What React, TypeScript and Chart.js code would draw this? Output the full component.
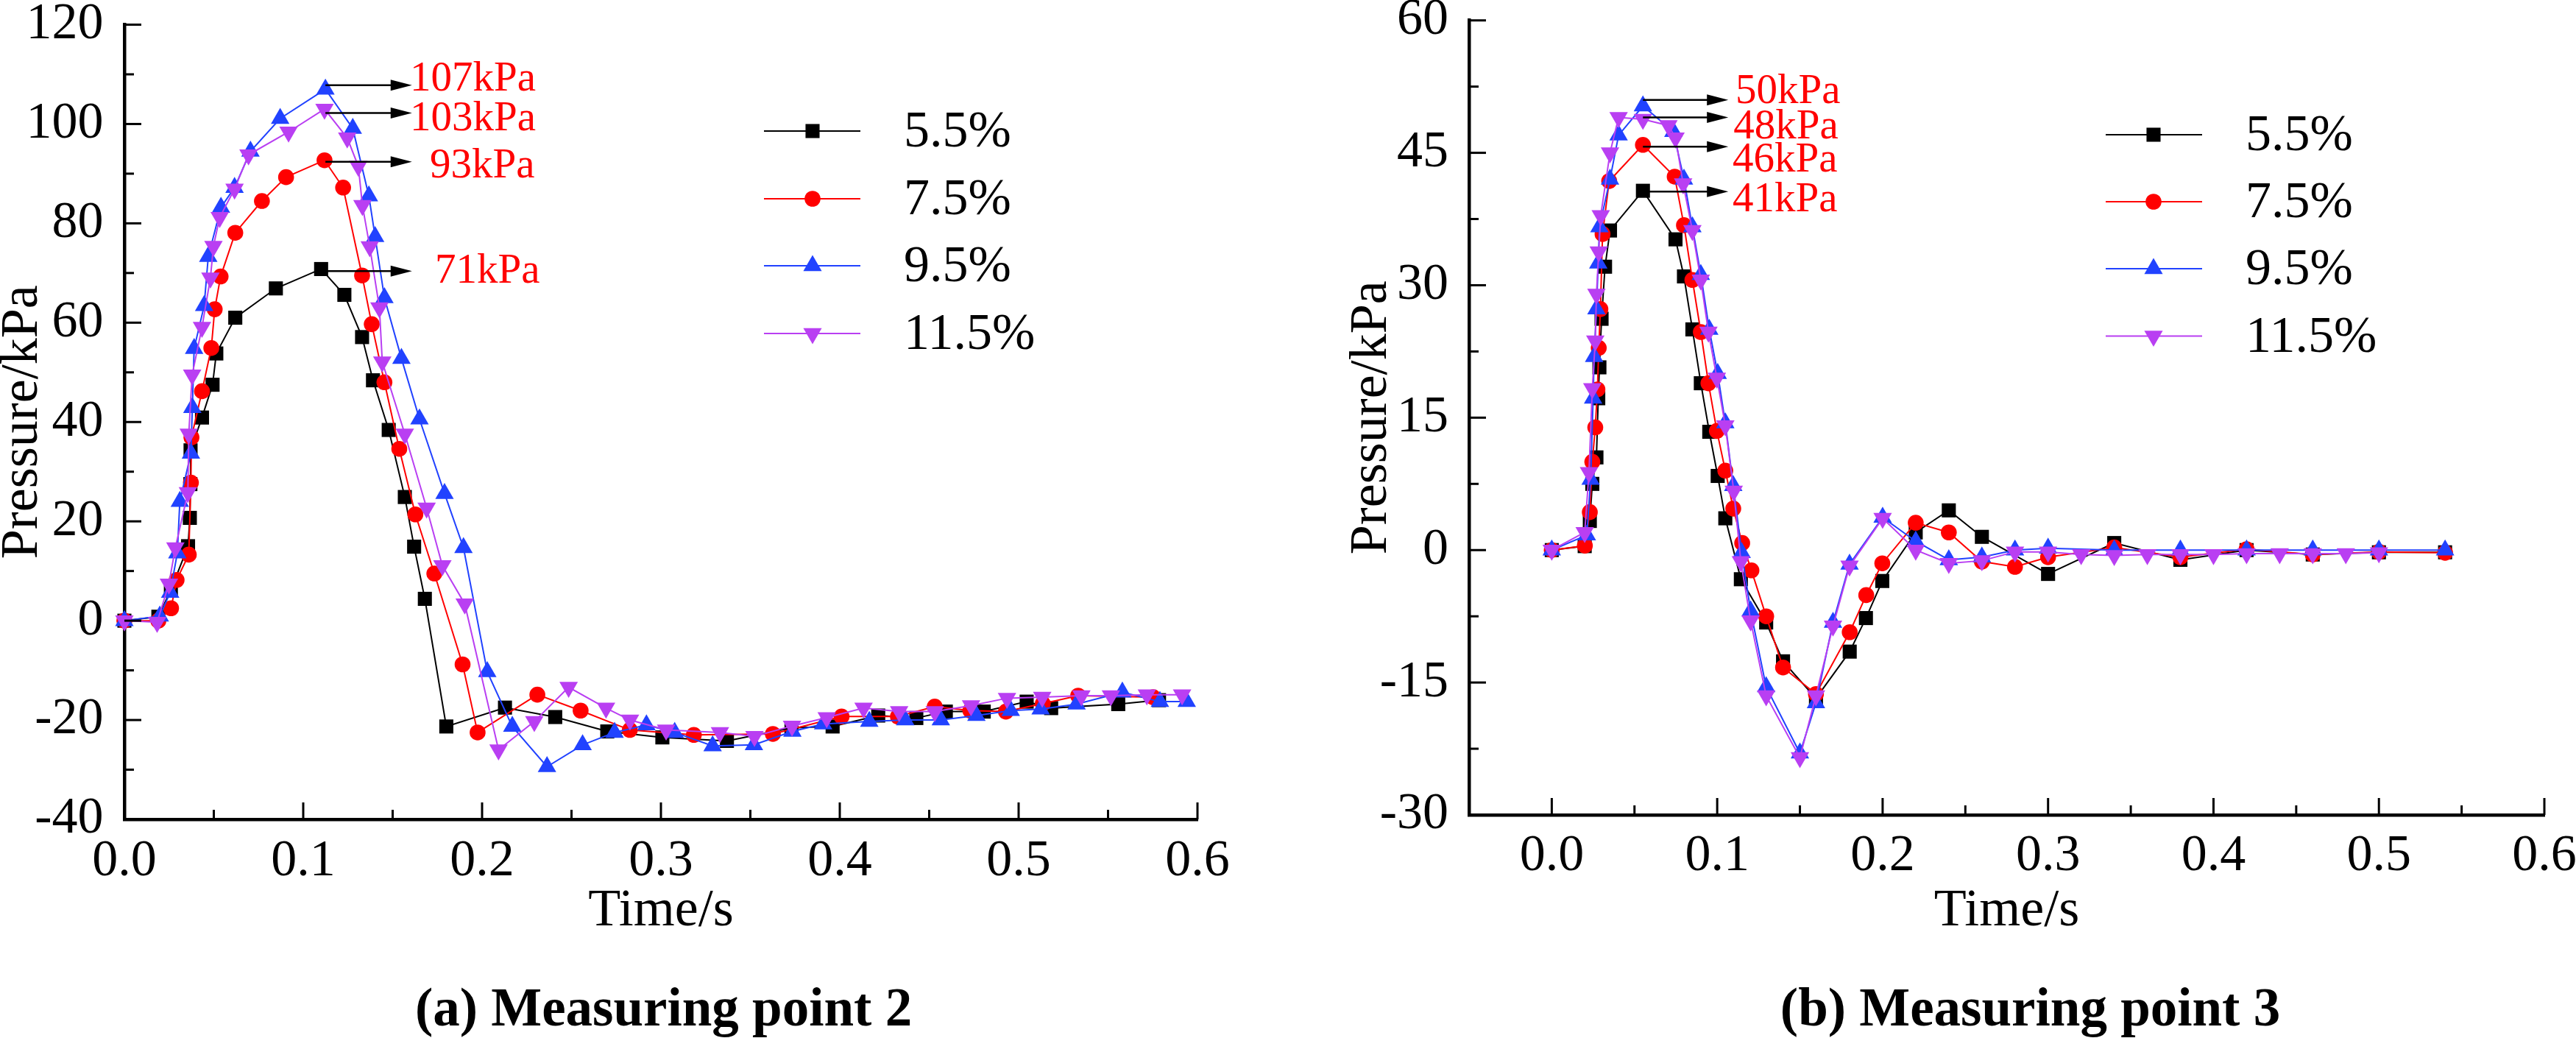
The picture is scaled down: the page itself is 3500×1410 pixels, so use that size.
import React, { useEffect, useRef } from "react";
import { Chart, registerables } from "chart.js";

Chart.register(...registerables);

const FONT = "'Liberation Serif', 'Times New Roman', Times, serif";
const PANEL_W = 1750;
const PANEL_H = 1410;

// ---------------- shared series styling ----------------
const seriesLabels = ["5.5%", "7.5%", "9.5%", "11.5%"];
const seriesColors = ["#000000", "#ff0000", "#2142ff", "#b93ff2"];
const seriesStyles = ["rect", "circle", "triangle", "triangle"];
const seriesRotation = [0, 0, 0, 180];
const seriesRadius = [13.5, 10.8, 14.5, 14.5];

// ---------------- (a) Measuring point 2 ----------------
const aT55 = [0, 0.019, 0.026, 0.0356, 0.0366, 0.0369, 0.037, 0.0434, 0.0493, 0.0514, 0.062, 0.0847, 0.11, 0.123, 0.1329, 0.139, 0.1478, 0.1568, 0.162, 0.168, 0.18, 0.2128, 0.2409, 0.27, 0.3008, 0.3369, 0.373, 0.396, 0.4215, 0.4428, 0.4593, 0.4805, 0.5045, 0.5182, 0.5557, 0.5785];
const aV55 = [0, 0.8, 6.2, 15.0, 20.7, 27.5, 34.3, 40.9, 47.5, 53.8, 61.0, 66.9, 70.8, 65.6, 57.1, 48.4, 38.4, 24.9, 14.9, 4.4, -21.3, -17.5, -19.4, -22.3, -23.5, -24.2, -21.6, -21.3, -19.1, -19.6, -18.3, -18.3, -16.3, -17.6, -16.8, -16.0];

const aT75 = [0, 0.019, 0.0261, 0.0292, 0.036, 0.0372, 0.0375, 0.0434, 0.0486, 0.0505, 0.0538, 0.062, 0.0769, 0.0904, 0.1119, 0.1223, 0.1329, 0.1383, 0.1454, 0.1537, 0.1627, 0.1733, 0.1891, 0.1975, 0.2309, 0.2551, 0.2826, 0.3184, 0.3626, 0.401, 0.4325, 0.4531, 0.473, 0.4929, 0.5135, 0.5333, 0.5752];
const aV75 = [0, 0, 2.5, 8.2, 13.3, 27.8, 36.9, 46.2, 54.9, 62.7, 69.3, 78.1, 84.5, 89.3, 92.7, 87.2, 69.5, 59.7, 48.0, 34.6, 21.4, 9.5, -8.8, -22.5, -14.9, -18.1, -22.0, -23.0, -22.8, -19.3, -19.3, -17.3, -18.1, -18.3, -16.7, -15.1, -15.4];

const aT95 = [0, 0.0198, 0.0256, 0.0296, 0.031, 0.0372, 0.038, 0.039, 0.0446, 0.0469, 0.054, 0.0616, 0.0705, 0.0871, 0.1124, 0.1277, 0.1367, 0.1402, 0.1454, 0.1549, 0.165, 0.179, 0.1896, 0.2029, 0.2169, 0.2363, 0.2562, 0.2741, 0.2919, 0.3077, 0.3289, 0.352, 0.3735, 0.3907, 0.4165, 0.4366, 0.4565, 0.4764, 0.4956, 0.5123, 0.5324, 0.558, 0.579, 0.594];
const aV95 = [0, 0.9, 5.7, 13.6, 24.0, 33.7, 42.9, 54.8, 63.4, 73.3, 83.2, 87.2, 94.5, 101.1, 107.0, 99.1, 85.5, 77.3, 65.0, 52.8, 40.6, 25.6, 14.7, -10.3, -21.3, -29.4, -25.0, -22.5, -21.0, -22.5, -25.2, -25.0, -22.3, -20.8, -20.3, -20.0, -20.0, -19.1, -18.1, -17.8, -16.8, -14.4, -16.3, -16.3];

const aT115 = [0, 0.0183, 0.0249, 0.0285, 0.0355, 0.036, 0.0379, 0.0434, 0.0481, 0.0498, 0.0533, 0.0616, 0.0694, 0.0918, 0.1119, 0.1246, 0.1308, 0.1331, 0.1372, 0.1426, 0.1442, 0.1568, 0.169, 0.1778, 0.1903, 0.2092, 0.2292, 0.2484, 0.2693, 0.2827, 0.3029, 0.333, 0.3523, 0.3733, 0.3927, 0.4133, 0.4332, 0.4531, 0.4734, 0.4935, 0.5132, 0.5351, 0.5516, 0.5717, 0.5914];
const aV115 = [0, -0.3, 7.4, 14.7, 25.8, 37.6, 49.5, 59.1, 69.0, 75.4, 81.2, 86.9, 93.8, 98.4, 103.0, 97.2, 91.5, 83.6, 75.3, 63.0, 52.1, 37.6, 22.7, 11.1, 3.4, -26.0, -20.3, -13.4, -17.6, -20.0, -22.0, -22.5, -23.3, -21.2, -19.5, -17.6, -18.3, -18.3, -17.1, -15.6, -15.4, -15.1, -15.1, -14.9, -14.9];

const aYMajor = [-40, -20, 0, 20, 40, 60, 80, 100, 120];
const aYMinor = [-30, -10, 10, 30, 50, 70, 90, 110];
const aPeakLabels = ["107kPa", "103kPa", "93kPa", "71kPa"];
const aPeakArrowY = [107.8, 102.2, 92.4, 70.4];
const aPeakTextX = [0.1597, 0.1597, 0.1708, 0.1737];
const aPeakTextY = [106.7, 98.8, 89.2, 68.0];
const aArrowFrom = 0.1124;
const aArrowTo = 0.1608;

// ---------------- (b) Measuring point 3 ----------------
const bT55 = [0, 0.0199, 0.023, 0.0245, 0.027, 0.0281, 0.0288, 0.0301, 0.0322, 0.0352, 0.0551, 0.0748, 0.0799, 0.085, 0.0901, 0.0952, 0.1003, 0.1049, 0.1143, 0.1296, 0.1398, 0.1597, 0.1801, 0.1899, 0.1998, 0.22, 0.24, 0.26, 0.3, 0.34, 0.38, 0.42, 0.46, 0.5, 0.54];
const bV55 = [0, 0.45, 3.3, 7.5, 10.5, 17.2, 20.7, 26.2, 32.1, 36.2, 40.7, 35.2, 31.0, 25.0, 18.9, 13.4, 8.4, 3.6, -3.3, -8.2, -12.6, -16.8, -11.5, -7.7, -3.5, 2.0, 4.5, 1.5, -2.7, 0.8, -1.1, 0.0, -0.5, -0.25, -0.25];

const bT75 = [0, 0.02, 0.023, 0.0245, 0.0263, 0.0276, 0.0284, 0.0294, 0.0307, 0.0347, 0.0551, 0.0743, 0.0799, 0.085, 0.0901, 0.0947, 0.0998, 0.1049, 0.1097, 0.1151, 0.1207, 0.1296, 0.1398, 0.1597, 0.1801, 0.1901, 0.1998, 0.22, 0.24, 0.26, 0.28, 0.3, 0.34, 0.38, 0.42, 0.46, 0.5, 0.54];
const bV75 = [0, 0.5, 4.3, 10.0, 13.9, 18.2, 22.9, 27.3, 35.8, 41.8, 45.9, 42.3, 36.8, 30.6, 24.7, 18.9, 13.5, 9.0, 4.7, 0.8, -2.3, -7.5, -13.3, -16.3, -9.3, -5.1, -1.5, 3.1, 2.0, -1.3, -1.9, -0.8, 0.3, -0.8, 0.1, -0.5, -0.2, -0.3];

const bT95 = [0, 0.0212, 0.0235, 0.025, 0.0256, 0.027, 0.0281, 0.0288, 0.0352, 0.0404, 0.0551, 0.0735, 0.0799, 0.085, 0.0901, 0.0952, 0.1003, 0.1049, 0.1097, 0.1148, 0.1202, 0.1296, 0.15, 0.1597, 0.17, 0.18, 0.2, 0.22, 0.24, 0.26, 0.28, 0.3, 0.34, 0.38, 0.42, 0.46, 0.5, 0.54];
const bV95 = [0, 1.7, 8.0, 17.2, 21.9, 27.3, 32.5, 36.6, 42.0, 47.0, 50.3, 47.4, 42.0, 36.6, 31.2, 25.0, 20.0, 14.4, 7.3, -0.3, -6.9, -15.5, -23.0, -17.3, -8.2, -1.6, 3.7, 1.0, -1.1, -0.8, 0.0, 0.2, 0.0, 0.0, 0.0, 0.0, 0.0, 0.0];

const bT115 = [0, 0.0199, 0.0225, 0.0245, 0.0263, 0.027, 0.0284, 0.0296, 0.0352, 0.0404, 0.0551, 0.0705, 0.0748, 0.0794, 0.085, 0.0901, 0.0947, 0.0998, 0.1049, 0.11, 0.1143, 0.1202, 0.1296, 0.15, 0.1597, 0.17, 0.18, 0.2, 0.22, 0.24, 0.26, 0.28, 0.3, 0.32, 0.34, 0.36, 0.38, 0.4, 0.42, 0.44, 0.46, 0.48, 0.5];
const bV115 = [0, 2.0, 8.8, 18.3, 23.7, 29.0, 33.8, 37.9, 45.0, 49.0, 48.8, 48.1, 46.7, 41.5, 36.2, 30.6, 24.7, 19.5, 14.1, 6.7, -1.3, -8.0, -16.5, -23.5, -16.5, -8.6, -1.8, 3.6, 0.0, -1.5, -1.2, -0.2, -0.2, -0.5, -0.6, -0.5, -0.5, -0.5, -0.4, -0.4, -0.4, -0.4, -0.3];

const bYMajor = [-30, -15, 0, 15, 30, 45, 60];
const bYMinor = [-22.5, -7.5, 7.5, 22.5, 37.5, 52.5];
const bPeakLabels = ["50kPa", "48kPa", "46kPa", "41kPa"];
const bPeakArrowY = [51.0, 49.0, 45.7, 40.6];
const bPeakTextX = [0.1111, 0.1098, 0.1093, 0.1093];
const bPeakTextY = [50.6, 46.6, 42.9, 38.4];
const bArrowFrom = 0.0551;
const bArrowTo = 0.1067;

// ---------------- shared x ticks ----------------
const xMajor = [0, 0.1, 0.2, 0.3, 0.4, 0.5, 0.6];
const xMinor = [0.05, 0.15, 0.25, 0.35, 0.45, 0.55];

type Panel = {
  left: number;
  caption: string;
  captionX: number;
  series: { t: number[]; v: number[] }[];
  xMin: number; xMax: number; yMin: number; yMax: number;
  yMajor: number[]; yMinor: number[];
  padTop: number; padRight: number;
  yAxisW: number; xAxisH: number;
  yTickPad: number; xTickPad: number;
  yTitlePad: number; xTitlePad: number;
  legend: { x1: number; x2: number; xm: number; xt: number; rows: number[] };
  ann: { labels: string[]; arrowY: number[]; textX: number[]; textY: number[]; from: number; to: number };
};

const panelA: Panel = {
  left: 0,
  caption: "(a) Measuring point 2",
  captionX: 901.5,
  series: [
    { t: aT55, v: aV55 },
    { t: aT75, v: aV75 },
    { t: aT95, v: aV95 },
    { t: aT115, v: aV115 },
  ],
  xMin: 0, xMax: 0.6, yMin: -40, yMax: 120,
  yMajor: aYMajor, yMinor: aYMinor,
  padTop: 33.5, padRight: 123,
  yAxisW: 169, xAxisH: 297,
  yTickPad: 28.4, xTickPad: 23,
  yTitlePad: 2.2, xTitlePad: 143.2,
  legend: { x1: 1038, x2: 1169, xm: 1104, xt: 1228, rows: [178, 270, 361, 453] },
  ann: { labels: aPeakLabels, arrowY: aPeakArrowY, textX: aPeakTextX, textY: aPeakTextY, from: aArrowFrom, to: aArrowTo },
};

const panelB: Panel = {
  left: 1750,
  caption: "(b) Measuring point 3",
  captionX: 1008.5,
  series: [
    { t: bT55, v: bV55 },
    { t: bT75, v: bV75 },
    { t: bT95, v: bV95 },
    { t: bT115, v: bV115 },
  ],
  xMin: -0.05, xMax: 0.6, yMin: -30, yMax: 60,
  yMajor: bYMajor, yMinor: bYMinor,
  padTop: 27.7, padRight: 43,
  yAxisW: 246, xAxisH: 303,
  yTickPad: 28, xTickPad: 21.5,
  yTitlePad: 85.2, xTitlePad: 143.2,
  legend: { x1: 1111, x2: 1242, xm: 1176, xt: 1301, rows: [183, 274, 365, 456.5] },
  ann: { labels: bPeakLabels, arrowY: bPeakArrowY, textX: bPeakTextX, textY: bPeakTextY, from: bArrowFrom, to: bArrowTo },
};

function drawMarker(ctx: CanvasRenderingContext2D, style: string, rotation: number, r: number, x: number, y: number) {
  ctx.beginPath();
  if (style === "rect") {
    const s = Math.SQRT1_2 * r;
    ctx.rect(x - s, y - s, 2 * s, 2 * s);
  } else if (style === "circle") {
    ctx.arc(x, y, r, 0, Math.PI * 2);
  } else {
    let rad = (rotation * Math.PI) / 180;
    ctx.moveTo(x + Math.sin(rad) * r, y - Math.cos(rad) * r);
    rad += (2 * Math.PI) / 3;
    ctx.lineTo(x + Math.sin(rad) * r, y - Math.cos(rad) * r);
    rad += (2 * Math.PI) / 3;
    ctx.lineTo(x + Math.sin(rad) * r, y - Math.cos(rad) * r);
    ctx.closePath();
  }
  ctx.fill();
}

function makeDecor(p: Panel) {
  return {
    id: "decor",
    afterDraw(chart: any) {
      const ctx: CanvasRenderingContext2D = chart.ctx;
      const a = chart.chartArea;
      const xs = chart.scales.x;
      const ys = chart.scales.y;
      ctx.save();
      // inward ticks (major + minor)
      ctx.strokeStyle = "#000";
      ctx.lineWidth = 3;
      ctx.lineCap = "butt";
      const seg = (x1: number, y1: number, x2: number, y2: number) => {
        ctx.beginPath();
        ctx.moveTo(x1, y1);
        ctx.lineTo(x2, y2);
        ctx.stroke();
      };
      p.yMajor.forEach((v) => { const y = ys.getPixelForValue(v); seg(a.left, y, a.left + 23, y); });
      p.yMinor.forEach((v) => { const y = ys.getPixelForValue(v); seg(a.left, y, a.left + 13, y); });
      xMajor.forEach((v) => { const x = xs.getPixelForValue(v); seg(x, a.bottom, x, a.bottom - 23); });
      xMinor.forEach((v) => { const x = xs.getPixelForValue(v); seg(x, a.bottom, x, a.bottom - 13); });

      // peak annotations
      const an = p.ann;
      an.labels.forEach((lab, i) => {
        const x1 = xs.getPixelForValue(an.from);
        const x2 = xs.getPixelForValue(an.to);
        const y = ys.getPixelForValue(an.arrowY[i]);
        ctx.strokeStyle = "#000";
        ctx.fillStyle = "#000";
        ctx.lineWidth = 2.5;
        seg(x1, y, x2 - 26, y);
        ctx.beginPath();
        ctx.moveTo(x2, y);
        ctx.lineTo(x2 - 29, y - 7.5);
        ctx.lineTo(x2 - 29, y + 7.5);
        ctx.closePath();
        ctx.fill();
        ctx.fillStyle = "#ff0000";
        ctx.font = `57px ${FONT}`;
        ctx.textAlign = "left";
        ctx.textBaseline = "alphabetic";
        ctx.fillText(lab, xs.getPixelForValue(an.textX[i]), ys.getPixelForValue(an.textY[i]));
      });

      // legend
      const lg = p.legend;
      lg.rows.forEach((ry, i) => {
        ctx.strokeStyle = seriesColors[i];
        ctx.fillStyle = seriesColors[i];
        ctx.lineWidth = 2;
        seg(lg.x1, ry, lg.x2, ry);
        drawMarker(ctx, seriesStyles[i], seriesRotation[i], seriesRadius[i], lg.xm, ry);
        ctx.fillStyle = "#000";
        ctx.font = `70px ${FONT}`;
        ctx.textAlign = "left";
        ctx.textBaseline = "alphabetic";
        ctx.fillText(seriesLabels[i], lg.xt, ry + 21);
      });

      // caption
      ctx.fillStyle = "#000";
      ctx.font = `bold 73px ${FONT}`;
      ctx.textAlign = "center";
      ctx.textBaseline = "alphabetic";
      ctx.fillText(p.caption, p.captionX, 1393);
      ctx.restore();
    },
  };
}

function buildConfig(p: Panel): any {
  const tickFont = { family: FONT, size: 70, lineHeight: 1 };
  const titleFont = { family: FONT, size: 72, lineHeight: 0.8 };
  const zeroPad = (s: any) => {
    s.paddingTop = 0;
    s.paddingBottom = 0;
    s.paddingLeft = 0;
    s.paddingRight = 0;
  };
  return {
    type: "line",
    data: {
      datasets: p.series.map((s, i) => ({
        label: seriesLabels[i],
        data: s.t.map((t, j) => ({ x: t, y: s.v[j] })),
        borderColor: seriesColors[i],
        backgroundColor: seriesColors[i],
        pointBackgroundColor: seriesColors[i],
        pointBorderColor: seriesColors[i],
        pointBorderWidth: 0,
        pointStyle: seriesStyles[i],
        pointRotation: seriesRotation[i],
        pointRadius: seriesRadius[i],
        borderWidth: 2,
        tension: 0,
        fill: false,
        clip: false,
        order: 4 - i,
      })),
    },
    options: {
      responsive: false,
      animation: false,
      devicePixelRatio: 1,
      events: [],
      layout: { padding: { left: 0, top: p.padTop, right: p.padRight, bottom: 0 } },
      plugins: { legend: { display: false }, tooltip: { enabled: false } },
      scales: {
        x: {
          type: "linear",
          position: "bottom",
          min: p.xMin,
          max: p.xMax,
          afterBuildTicks: (s: any) => { s.ticks = xMajor.map((v) => ({ value: v })); },
          afterFit: (s: any) => { s.height = p.xAxisH; zeroPad(s); },
          grid: { display: false, drawTicks: false },
          border: { display: true, color: "#000", width: 4.5 },
          ticks: {
            font: tickFont,
            color: "#000",
            padding: p.xTickPad,
            autoSkip: false,
            maxRotation: 0,
            minRotation: 0,
            callback: (v: any) => Number(v).toFixed(1),
          },
          title: {
            display: true,
            text: "Time/s",
            color: "#000",
            font: titleFont,
            padding: { top: 0, bottom: p.xTitlePad },
          },
        },
        y: {
          type: "linear",
          position: "left",
          min: p.yMin,
          max: p.yMax,
          afterBuildTicks: (s: any) => { s.ticks = p.yMajor.map((v) => ({ value: v })); },
          afterFit: (s: any) => { s.width = p.yAxisW; zeroPad(s); },
          grid: { display: false, drawTicks: false },
          border: { display: true, color: "#000", width: 4.5 },
          ticks: {
            font: tickFont,
            color: "#000",
            padding: p.yTickPad,
            autoSkip: false,
            callback: (v: any) => String(v),
          },
          title: {
            display: true,
            text: "Pressure/kPa",
            color: "#000",
            font: titleFont,
            padding: { top: p.yTitlePad, bottom: 0 },
          },
        },
      },
    },
    plugins: [makeDecor(p)],
  };
}

function PanelChart({ p }: { p: Panel }) {
  const ref = useRef<HTMLCanvasElement | null>(null);
  useEffect(() => {
    if (!ref.current) return;
    const chart = new Chart(ref.current, buildConfig(p));
    return () => chart.destroy();
  }, [p]);
  return (
    <canvas
      ref={ref}
      width={PANEL_W}
      height={PANEL_H}
      style={{ position: "absolute", left: p.left, top: 0, width: PANEL_W, height: PANEL_H, display: "block" }}
    />
  );
}

export default function App() {
  return (
    <div style={{ position: "absolute", left: 0, top: 0, width: 3500, height: 1410, background: "#ffffff", overflow: "hidden" }}>
      <PanelChart p={panelA} />
      <PanelChart p={panelB} />
    </div>
  );
}
